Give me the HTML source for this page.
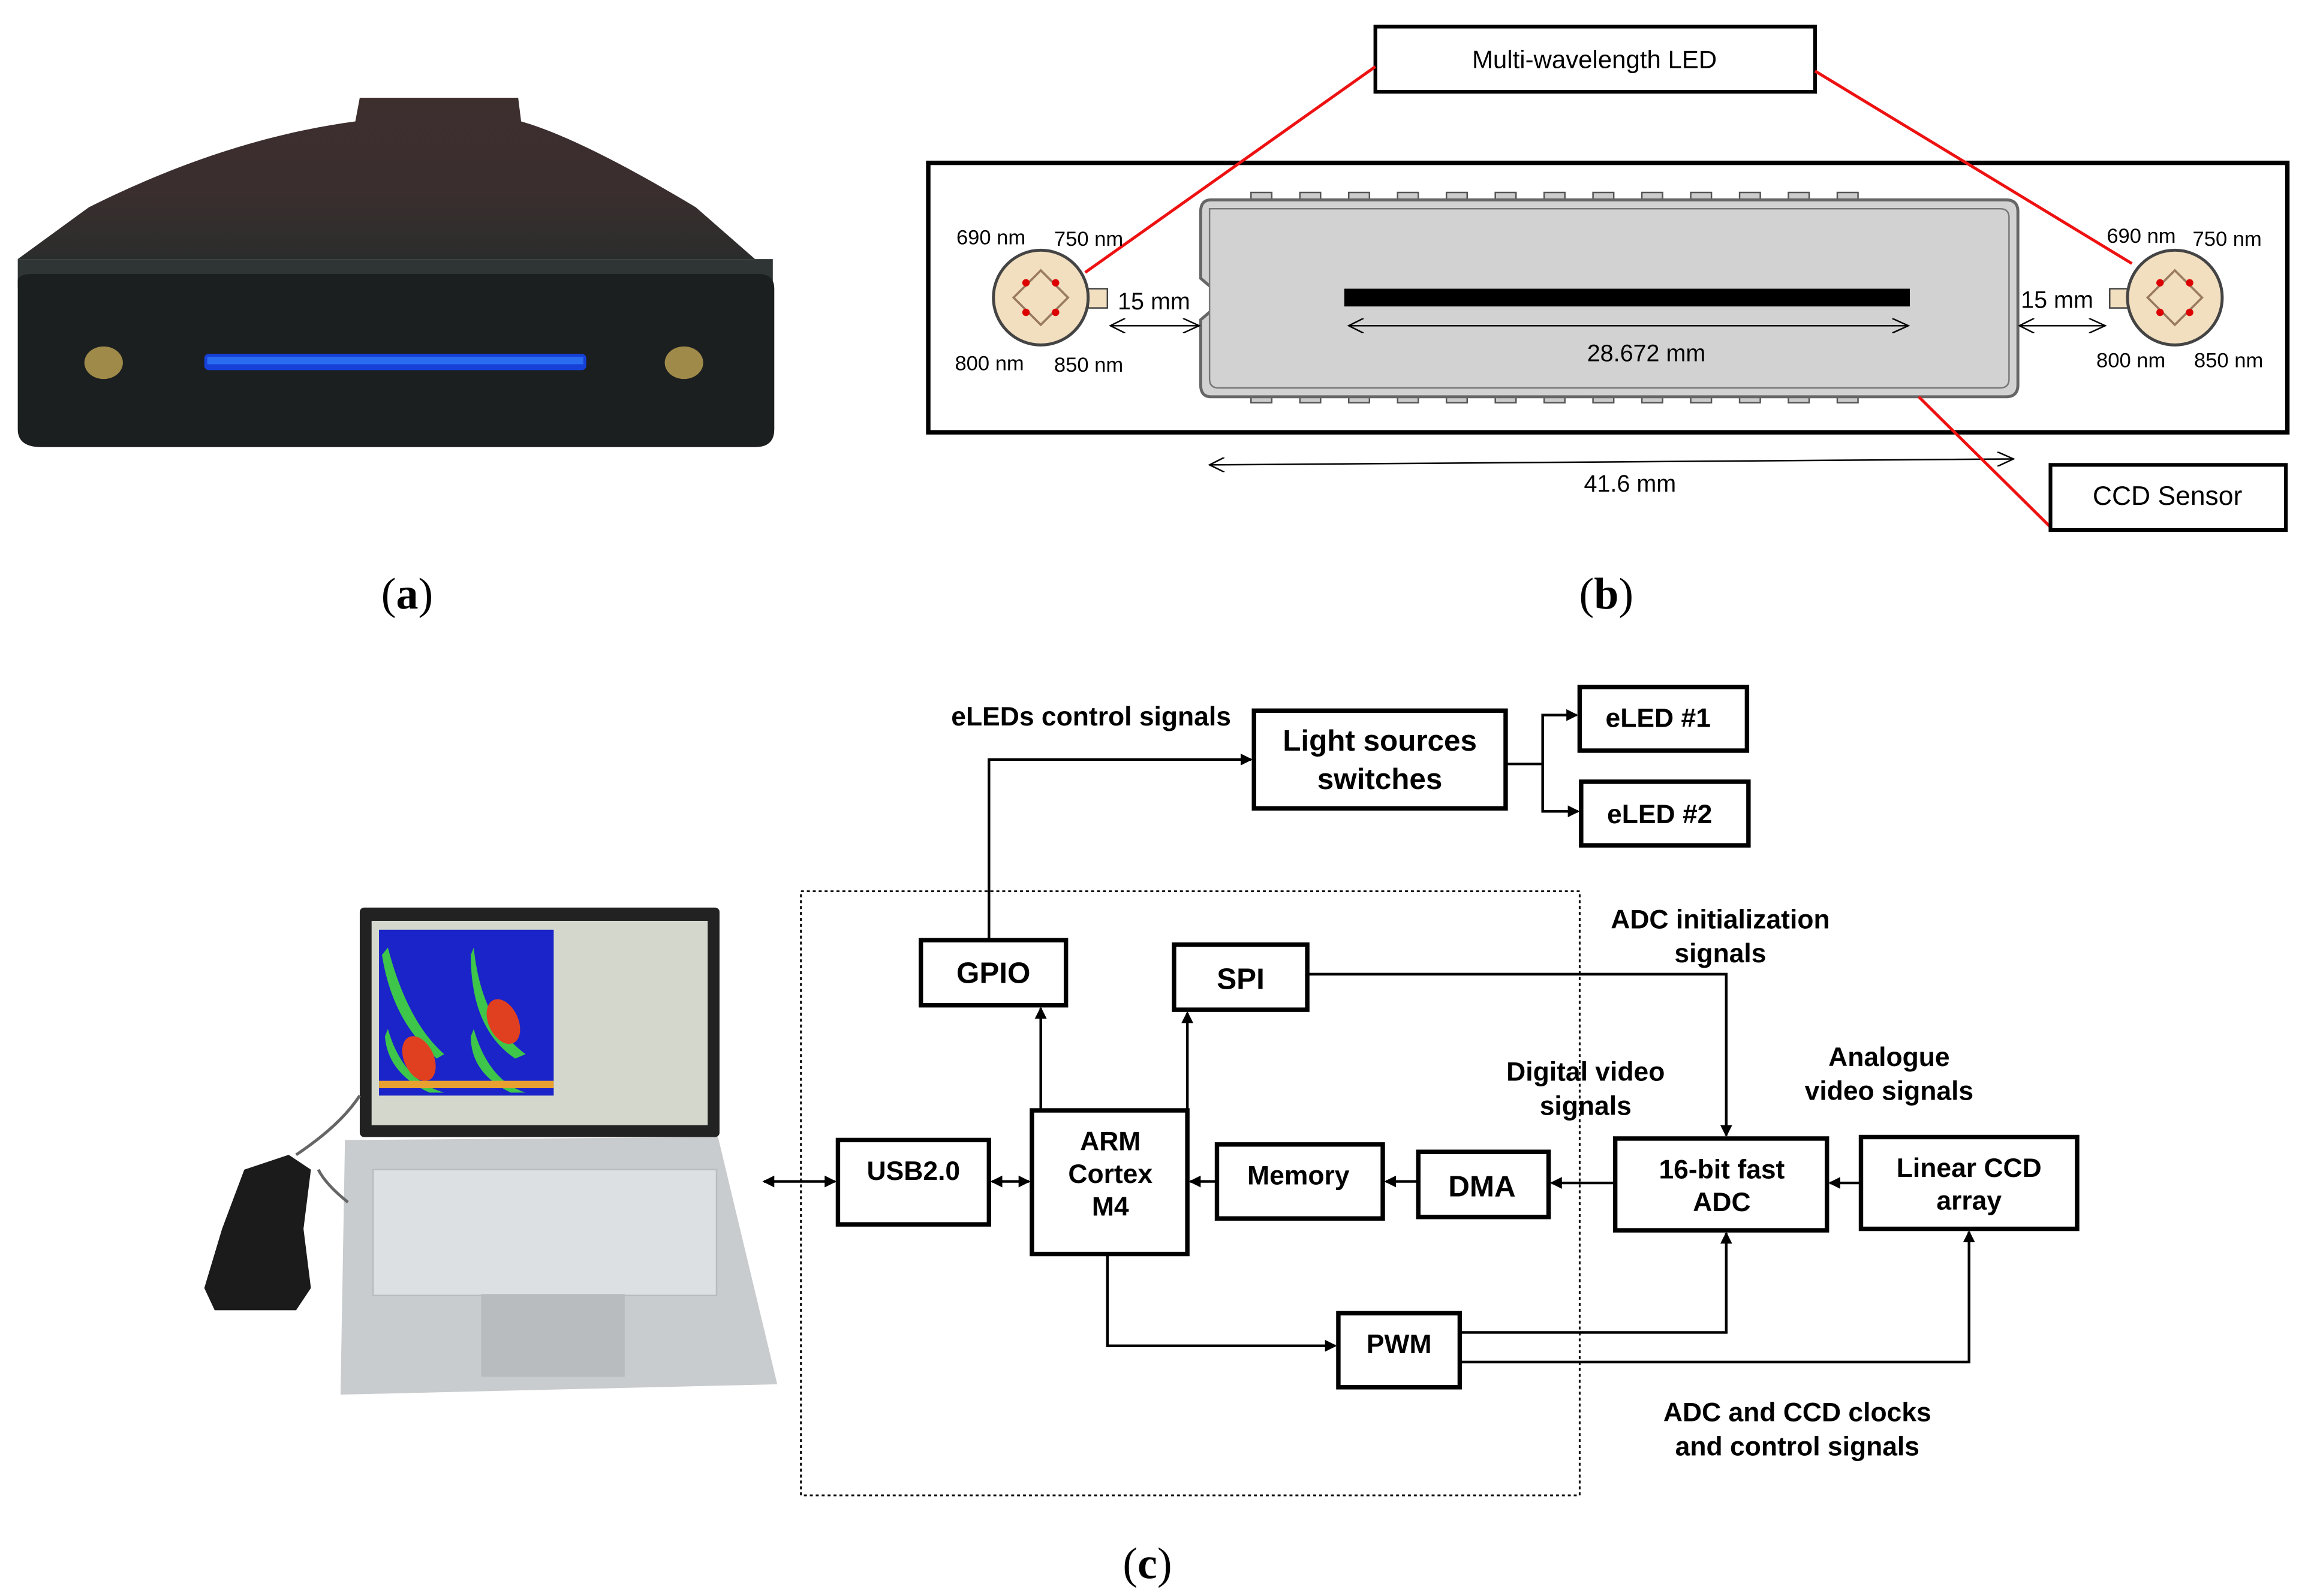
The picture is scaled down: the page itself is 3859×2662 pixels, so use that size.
<!DOCTYPE html>
<html><head><meta charset="utf-8"><style>
html,body{margin:0;padding:0;background:#fff;}
svg{display:block;}
text{font-family:"Liberation Sans",Arial,sans-serif;}
text.serif{font-family:"Liberation Serif","Times New Roman",serif;}
</style></head><body>
<svg width="3859" height="2662" viewBox="0 0 1563 1078" preserveAspectRatio="none" xmlns="http://www.w3.org/2000/svg">
<rect width="1563" height="1078" fill="#fff"/>
<defs>
<marker id="ah" markerWidth="8" markerHeight="8" refX="7" refY="4" orient="auto" markerUnits="userSpaceOnUse"><path d="M0,0 L8,4 L0,8 z" fill="#000"/></marker>
<marker id="ahs" markerWidth="8" markerHeight="8" refX="1" refY="4" orient="auto" markerUnits="userSpaceOnUse"><path d="M8,0 L0,4 L8,8 z" fill="#000"/></marker>
<marker id="oa" markerWidth="12" markerHeight="10" refX="11" refY="5" orient="auto" markerUnits="userSpaceOnUse"><path d="M0,0 L11,5 L0,10" fill="none" stroke="#000" stroke-width="1"/></marker>
<marker id="oas" markerWidth="12" markerHeight="10" refX="1" refY="5" orient="auto" markerUnits="userSpaceOnUse"><path d="M11,0 L1,5 L11,10" fill="none" stroke="#000" stroke-width="1"/></marker>
<linearGradient id="topg" x1="0" y1="0" x2="0" y2="1"><stop offset="0" stop-color="#3e2f2f"/><stop offset="0.6" stop-color="#3a2e2e"/><stop offset="1" stop-color="#2a2d2c"/></linearGradient>
</defs>

<!-- (a) photo -->
<path d="M243,66 L350,66 L352,82 C380,90 420,110 470,140 L510,175 L12,175 L60,140 C120,110 180,90 240,82 Z" fill="url(#topg)"/>
<path d="M12,175 L522,175 L522,195 L12,195 Z" fill="#2f3534"/>
<path d="M12,190 Q12,185 22,185 L512,185 Q523,185 523,195 L523,290 Q523,302 510,302 L28,302 Q12,302 12,290 Z" fill="#1b1f1f"/>
<rect x="138" y="239" width="258" height="11" rx="3" fill="#1640d8"/>
<rect x="140" y="241" width="254" height="5" fill="#2a6cf0"/>
<ellipse cx="70" cy="245" rx="13" ry="11" fill="#a08a4a"/>
<ellipse cx="462" cy="245" rx="13" ry="11" fill="#a08a4a"/>
<text class="serif" x="275" y="411" font-size="30" text-anchor="middle">(<tspan font-weight="bold">a</tspan>)</text>

<!-- (b) -->
<rect x="929" y="18" width="297" height="44" fill="#fff" stroke="#000" stroke-width="2.5"/>
<text x="1077" y="46" font-size="17" text-anchor="middle">Multi-wavelength LED</text>
<rect x="627" y="110" width="918" height="182" fill="none" stroke="#000" stroke-width="3"/>
<line x1="929" y1="45" x2="733" y2="184" stroke="#e11" stroke-width="2"/>
<line x1="1226" y1="48" x2="1440" y2="178" stroke="#e11" stroke-width="2"/>
<g fill="#ccc" stroke="#555" stroke-width="1">
<rect x="845" y="130" width="14" height="6"/><rect x="878" y="130" width="14" height="6"/><rect x="911" y="130" width="14" height="6"/><rect x="944" y="130" width="14" height="6"/><rect x="977" y="130" width="14" height="6"/><rect x="1010" y="130" width="14" height="6"/><rect x="1043" y="130" width="14" height="6"/><rect x="1076" y="130" width="14" height="6"/><rect x="1109" y="130" width="14" height="6"/><rect x="1142" y="130" width="14" height="6"/><rect x="1175" y="130" width="14" height="6"/><rect x="1208" y="130" width="14" height="6"/><rect x="1241" y="130" width="14" height="6"/>
<rect x="845" y="266" width="14" height="6"/><rect x="878" y="266" width="14" height="6"/><rect x="911" y="266" width="14" height="6"/><rect x="944" y="266" width="14" height="6"/><rect x="977" y="266" width="14" height="6"/><rect x="1010" y="266" width="14" height="6"/><rect x="1043" y="266" width="14" height="6"/><rect x="1076" y="266" width="14" height="6"/><rect x="1109" y="266" width="14" height="6"/><rect x="1142" y="266" width="14" height="6"/><rect x="1175" y="266" width="14" height="6"/><rect x="1208" y="266" width="14" height="6"/><rect x="1241" y="266" width="14" height="6"/>
</g>
<path d="M818,135 L1355,135 Q1363,135 1363,143 L1363,260 Q1363,268 1355,268 L818,268 Q811,268 811,260 L811,216 L818,210 L818,194 L811,188 L811,143 Q811,135 818,135 Z" fill="#d2d2d2" stroke="#666" stroke-width="2"/>
<path d="M823,141 L1351,141 Q1357,141 1357,147 L1357,256 Q1357,262 1351,262 L823,262 Q817,262 817,256 L817,141 Z" fill="#d2d2d2" stroke="#777" stroke-width="1"/>
<rect x="908" y="195" width="382" height="12" fill="#000"/>
<line x1="911" y1="220" x2="1289" y2="220" stroke="#000" stroke-width="1" marker-end="url(#oa)" marker-start="url(#oas)"/>
<text x="1112" y="244" font-size="16" text-anchor="middle">28.672 mm</text>
<line x1="817" y1="314" x2="1360" y2="310" stroke="#000" stroke-width="1" marker-end="url(#oa)" marker-start="url(#oas)"/>
<text x="1101" y="332" font-size="16" text-anchor="middle">41.6 mm</text>
<line x1="1296" y1="268" x2="1385" y2="356" stroke="#e11" stroke-width="2"/>
<rect x="1385" y="314" width="159" height="44" fill="#fff" stroke="#000" stroke-width="2.5"/>
<text x="1464" y="341" font-size="18" text-anchor="middle">CCD Sensor</text>
<g>
<rect x="735" y="195" width="13" height="13" fill="#f2dfc0" stroke="#444"/>
<circle cx="703" cy="201" r="32" fill="#f2dfc0" stroke="#444" stroke-width="2"/>
<rect x="690" y="188" width="26" height="26" fill="none" stroke="#9a7a60" stroke-width="1.5" transform="rotate(45 703 201)"/>
<circle cx="693" cy="191" r="2.5" fill="#d00"/><circle cx="713" cy="191" r="2.5" fill="#d00"/><circle cx="693" cy="211" r="2.5" fill="#d00"/><circle cx="713" cy="211" r="2.5" fill="#d00"/>
</g>
<g>
<rect x="1425" y="195" width="13" height="13" fill="#f2dfc0" stroke="#444"/>
<circle cx="1469" cy="201" r="32" fill="#f2dfc0" stroke="#444" stroke-width="2"/>
<rect x="1456" y="188" width="26" height="26" fill="none" stroke="#9a7a60" stroke-width="1.5" transform="rotate(45 1469 201)"/>
<circle cx="1459" cy="191" r="2.5" fill="#d00"/><circle cx="1479" cy="191" r="2.5" fill="#d00"/><circle cx="1459" cy="211" r="2.5" fill="#d00"/><circle cx="1479" cy="211" r="2.5" fill="#d00"/>
</g>
<g font-size="14">
<text x="646" y="165">690 nm</text><text x="712" y="166">750 nm</text>
<text x="645" y="250">800 nm</text><text x="712" y="251">850 nm</text>
<text x="1423" y="164">690 nm</text><text x="1481" y="166">750 nm</text>
<text x="1416" y="248">800 nm</text><text x="1482" y="248">850 nm</text>
</g>
<text x="755" y="209" font-size="16">15 mm</text>
<text x="1365" y="208" font-size="16">15 mm</text>
<line x1="750" y1="220" x2="810" y2="220" stroke="#000" stroke-width="1" marker-end="url(#oa)" marker-start="url(#oas)"/>
<line x1="1364" y1="220" x2="1422" y2="220" stroke="#000" stroke-width="1" marker-end="url(#oa)" marker-start="url(#oas)"/>
<text class="serif" x="1085" y="411" font-size="30" text-anchor="middle">(<tspan font-weight="bold">b</tspan>)</text>

<!-- (c) laptop photo -->
<path d="M233,770 L485,768 L525,935 L230,942 Z" fill="#c9ccce"/>
<rect x="252" y="790" width="232" height="85" fill="#dde0e2" stroke="#b8bcbf"/>
<rect x="325" y="874" width="97" height="56" fill="#b9bcbe"/>
<rect x="243" y="613" width="243" height="155" fill="#222" rx="3"/>
<rect x="251" y="622" width="227" height="138" fill="#d4d8cc"/>
<rect x="256" y="628" width="118" height="112" fill="#1a24c8"/>
<path d="M262,640 Q275,690 300,712 L295,715 Q265,690 258,645 Z" fill="#3ec64a"/>
<path d="M320,640 Q325,690 355,712 L348,715 Q318,695 318,645 Z" fill="#3ec64a"/>
<ellipse cx="340" cy="690" rx="10" ry="16" fill="#e04020" transform="rotate(-25 340 690)"/>
<path d="M262,695 Q272,730 300,738 L290,738 Q262,725 260,700 Z" fill="#3ec64a"/>
<ellipse cx="283" cy="715" rx="10" ry="16" fill="#e04020" transform="rotate(-25 283 715)"/>
<path d="M320,695 Q330,730 355,738 L345,738 Q318,725 318,700 Z" fill="#3ec64a"/>
<rect x="256" y="730" width="118" height="5" fill="#e8a030"/>
<path d="M150,830 L165,790 L195,780 L210,790 L205,830 L210,870 L200,885 L145,885 L138,870 Z" fill="#1b1b1b"/>
<path d="M200,780 Q230,760 243,740" fill="none" stroke="#666" stroke-width="2"/>
<path d="M215,790 Q220,800 235,812" fill="none" stroke="#666" stroke-width="2"/>

<!-- (c) block diagram -->
<rect x="541" y="602" width="526" height="408" fill="none" stroke="#000" stroke-width="1.2" stroke-dasharray="2,2"/>
<g fill="#fff" stroke="#000" stroke-width="3">
<rect x="847" y="480" width="170" height="66"/>
<rect x="1067" y="464" width="113" height="43"/>
<rect x="1068" y="528" width="113" height="43"/>
<rect x="622" y="635" width="98" height="44"/>
<rect x="793" y="638" width="90" height="44"/>
<rect x="566" y="770" width="102" height="57"/>
<rect x="697" y="750" width="105" height="97"/>
<rect x="822" y="773" width="112" height="50"/>
<rect x="958" y="778" width="88" height="44"/>
<rect x="1091" y="769" width="143" height="62"/>
<rect x="1257" y="768" width="146" height="62"/>
<rect x="904" y="887" width="82" height="50"/>
</g>
<g font-size="18" font-weight="bold" text-anchor="middle">
<text x="932" y="507" font-size="20">Light sources</text>
<text x="932" y="533" font-size="20">switches</text>
<text x="1120" y="491">eLED #1</text>
<text x="1121" y="556">eLED #2</text>
<text x="671" y="664" font-size="20">GPIO</text>
<text x="838" y="668" font-size="20">SPI</text>
<text x="617" y="797">USB2.0</text>
<text x="750" y="777">ARM</text>
<text x="750" y="799">Cortex</text>
<text x="750" y="821">M4</text>
<text x="877" y="800">Memory</text>
<text x="1001" y="808" font-size="20">DMA</text>
<text x="1163" y="796">16-bit fast</text>
<text x="1163" y="818">ADC</text>
<text x="1330" y="795">Linear CCD</text>
<text x="1330" y="817">array</text>
<text x="945" y="914">PWM</text>
<text x="737" y="490">eLEDs control signals</text>
<text x="1162" y="627">ADC initialization</text>
<text x="1162" y="650">signals</text>
<text x="1071" y="730">Digital video</text>
<text x="1071" y="753">signals</text>
<text x="1276" y="720">Analogue</text>
<text x="1276" y="743">video signals</text>
<text x="1214" y="960">ADC and CCD clocks</text>
<text x="1214" y="983">and control signals</text>
</g>
<g fill="none" stroke="#000" stroke-width="1.8">
<polyline points="668,635 668,513 845,513" marker-end="url(#ah)"/>
<polyline points="1017,516 1042,516 1042,483 1065,483" marker-end="url(#ah)"/>
<polyline points="1042,516 1042,548 1066,548" marker-end="url(#ah)"/>
<line x1="703" y1="750" x2="703" y2="681" marker-end="url(#ah)"/>
<line x1="802" y1="750" x2="802" y2="684" marker-end="url(#ah)"/>
<polyline points="883,658 1166,658 1166,767" marker-end="url(#ah)"/>
<line x1="516" y1="798" x2="564" y2="798" marker-end="url(#ah)" marker-start="url(#ahs)"/>
<line x1="670" y1="798" x2="695" y2="798" marker-end="url(#ah)" marker-start="url(#ahs)"/>
<line x1="822" y1="798" x2="804" y2="798" marker-end="url(#ah)"/>
<line x1="958" y1="798" x2="936" y2="798" marker-end="url(#ah)"/>
<line x1="1091" y1="799" x2="1048" y2="799" marker-end="url(#ah)"/>
<line x1="1257" y1="799" x2="1236" y2="799" marker-end="url(#ah)"/>
<polyline points="748,847 748,909 902,909" marker-end="url(#ah)"/>
<polyline points="986,900 1166,900 1166,833" marker-end="url(#ah)"/>
<polyline points="986,920 1330,920 1330,832" marker-end="url(#ah)"/>
</g>
<text class="serif" x="775" y="1066" font-size="30" text-anchor="middle">(<tspan font-weight="bold">c</tspan>)</text>
</svg>
</body></html>
